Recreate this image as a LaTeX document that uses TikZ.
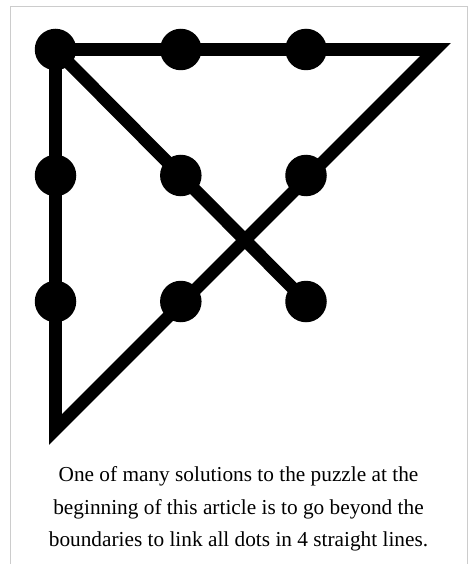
\documentclass[tikz,border=0pt]{standalone}
\usepackage{fontspec}
\setmainfont{Liberation Serif}
\tikzset{
  puzzleline/.style={line width=12.7pt, line join=miter, draw=black},
  dot/.style={circle, fill=black, inner sep=0pt, minimum size=41.5pt},
  frameline/.style={draw=black!20, line width=1pt},
  captionline/.style={anchor=base, inner sep=0pt, font=\fontsize{21.3}{32.5}\selectfont}
}
\begin{document}
\begin{tikzpicture}[x=1pt,y=-1pt]
\useasboundingbox (0,0) rectangle (469,564);
% frame
\coordinate (fbl) at (10,564);
\coordinate (ftl) at (10,7);
\coordinate (ftr) at (467,7);
\coordinate (fbr) at (467,564);
\draw[frameline] (fbl) -- (ftl) -- (ftr) -- (fbr);
% grid points
\coordinate (p00) at (55.5,49.5);
\coordinate (p10) at (180.8,49.5);
\coordinate (p20) at (306,49.5);
\coordinate (p01) at (55.5,175.5);
\coordinate (p11) at (180.8,175.5);
\coordinate (p21) at (306,175.5);
\coordinate (p02) at (55.5,301.5);
\coordinate (p12) at (180.8,301.5);
\coordinate (p22) at (306,301.5);
\coordinate (tA) at (435.5,49.5);
\coordinate (tB) at (55.5,429.5);
% lines
\draw[puzzleline] (p00) -- (tA) -- (tB) -- cycle;
\draw[puzzleline] (p00) -- (p22);
% dots
\node[dot] (d00) at (p00) {};
\node[dot] (d10) at (p10) {};
\node[dot] (d20) at (p20) {};
\node[dot] (d01) at (p01) {};
\node[dot] (d11) at (p11) {};
\node[dot] (d21) at (p21) {};
\node[dot] (d02) at (p02) {};
\node[dot] (d12) at (p12) {};
\node[dot] (d22) at (p22) {};
% caption
\node[captionline] (cap1) at (238.5,481.5) {One of many solutions to the puzzle at the};
\node[captionline] (cap2) at (238.5,514) {beginning of this article is to go beyond the};
\node[captionline] (cap3) at (238.5,546.5) {boundaries to link all dots in 4 straight lines.};
\end{tikzpicture}
\end{document}
